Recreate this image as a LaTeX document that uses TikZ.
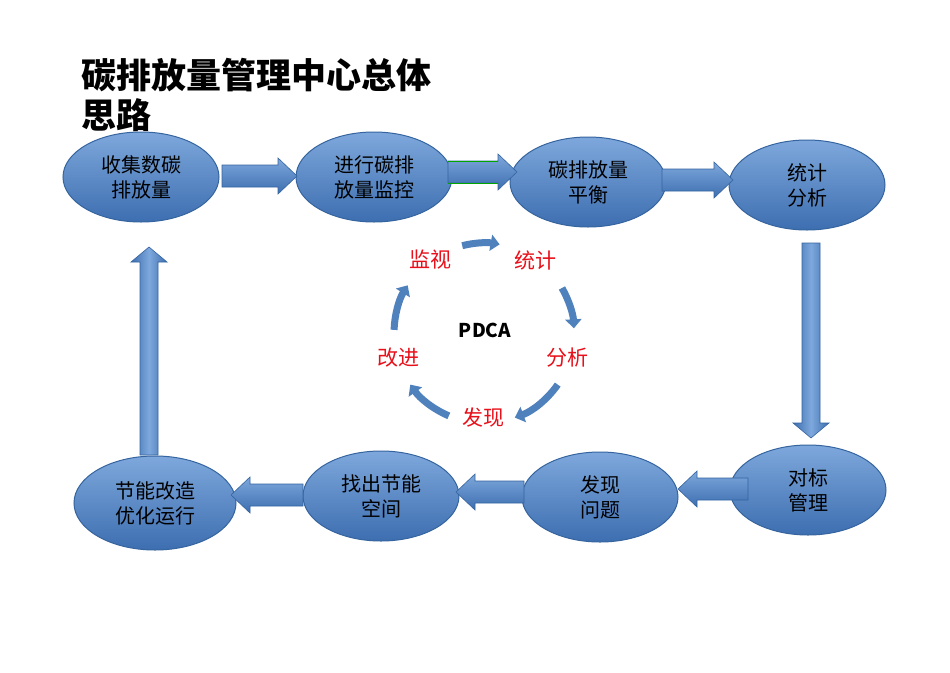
\documentclass[tikz,border=0pt]{standalone}
\usepackage{fontspec}
\setmainfont{Noto Sans CJK SC}
\usetikzlibrary{arrows.meta,shapes.geometric}
\definecolor{eltop}{HTML}{7EA8DC}
\definecolor{elbot}{HTML}{3D6EB0}
\definecolor{eledge}{HTML}{35649F}
\definecolor{cyc}{HTML}{4F81BD}
\definecolor{pred}{HTML}{E8101A}
\newcommand\blkR[3]{\shadedraw[harr] (#1,#3-11) -- (#2-19,#3-11) -- (#2-19,#3-18) -- (#2,#3) -- (#2-19,#3+18) -- (#2-19,#3+11) -- (#1,#3+11) -- cycle;}
\newcommand\blkL[3]{\shadedraw[harr] (#1,#3-11) -- (#2+19,#3-11) -- (#2+19,#3-18) -- (#2,#3) -- (#2+19,#3+18) -- (#2+19,#3+11) -- (#1,#3+11) -- cycle;}
\newcommand\blkD[3]{\shadedraw[varr] (#1-9,#2) -- (#1-9,#3-15) -- (#1-18,#3-15) -- (#1,#3) -- (#1+18,#3-15) -- (#1+9,#3-15) -- (#1+9,#2) -- cycle;}
\newcommand\blkU[3]{\shadedraw[varr] (#1-9,#2) -- (#1-9,#3+15) -- (#1-18,#3+15) -- (#1,#3) -- (#1+18,#3+15) -- (#1+9,#3+15) -- (#1+9,#2) -- cycle;}
\begin{document}
\begin{tikzpicture}[x=1pt,y=-1pt,
  el/.style={ellipse, draw=eledge, line width=1pt, top color=eltop, bottom color=elbot,
    minimum width=156pt, minimum height=90pt, inner sep=0pt, align=center,
    font=\fontsize{20}{25}\selectfont, text=black},
  harr/.style={draw=eledge, line width=0.6pt, top color=eltop, bottom color=elbot},
  varr/.style={draw=eledge, line width=0.6pt, left color=elbot, right color=elbot, middle color=eltop},
  cycarr/.style={draw=cyc, line width=7pt, -{Triangle[length=9pt,width=16pt]}},
  lab/.style={text=pred, font=\fontsize{21}{21}\selectfont}]
\useasboundingbox (0,0) rectangle (950,672);
\fill[white] (0,0) rectangle (950,672);
% title
\node[anchor=west, align=left, font=\fontsize{35}{40}\selectfont\bfseries, inner sep=0pt] (title) at (81,95) {碳排放量管理中心总体\\思路};
% ellipses
\node[el] (n1) at (141,177) {收集数碳\\排放量};
\node[el] (n2) at (374,177) {进行碳排\\放量监控};
\node[el] (n3) at (588,182) {碳排放量\\平衡};
\node[el] (n4) at (807,185) {统计\\分析};
\node[el] (n5) at (808,490) {对标\\管理};
\node[el] (n6) at (600,497) {发现\\问题};
\node[el] (n7) at (381,496) {找出节能\\空间};
\node[el, minimum width=162pt, minimum height=94pt] (n8) at (155,503) {节能改造\\优化运行};
% block arrows
\blkR{222}{297}{176}
\blkR{448}{517}{172}
\draw[green!65!black, line width=1pt] (448,161) -- (498,161) (448,183) -- (498,183);
\blkR{662}{733}{180}
\blkD{811}{243}{438}
\blkL{748}{678}{489}
\blkL{524}{456}{492}
\blkL{303}{231}{495}
\blkU{149}{455}{247}
% PDCA cycle
\node[font=\fontsize{19}{19}\selectfont\bfseries] (pdca) at (485,330) {PDCA};
\node[lab] (l1) at (430,260) {监视};
\node[lab] (l2) at (535,260) {统计};
\node[lab] (l3) at (567,358) {分析};
\node[lab] (l4) at (483,418) {发现};
\node[lab] (l5) at (398,358) {改进};
\begin{scope}[shift={(484,333)}, y=1pt]
\draw[cycarr] (104:90) arc[start angle=104, end angle=80, radius=90];
\draw[cycarr] (30:90) arc[start angle=30, end angle=3, radius=90];
\draw[cycarr] (-35:90) arc[start angle=-35, end angle=-70, radius=90];
\draw[cycarr] (-113:90) arc[start angle=-113, end angle=-145, radius=90];
\draw[cycarr] (178:90) arc[start angle=178, end angle=148, radius=90];
\end{scope}
\end{tikzpicture}
\end{document}
